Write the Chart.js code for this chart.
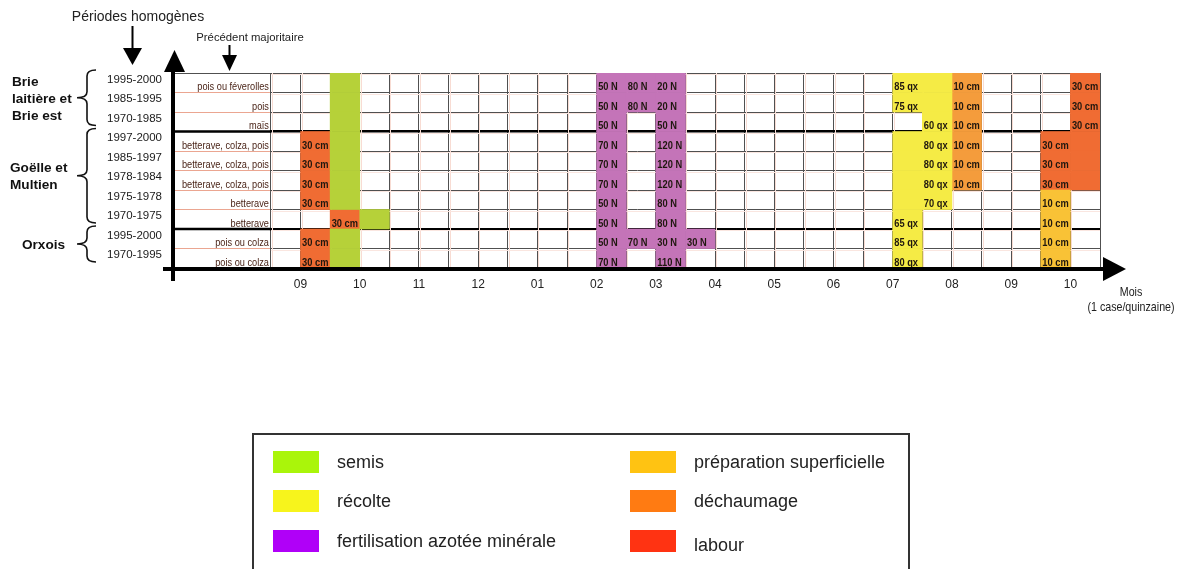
<!DOCTYPE html>
<html><head><meta charset="utf-8">
<script src="https://cdn.jsdelivr.net/npm/chart.js@4.4.0/dist/chart.umd.min.js"></script>
<style>
html,body{margin:0;padding:0;background:#fff;}
#wrap{position:relative;width:1184px;height:569px;overflow:hidden;background:#fff;}
#c{position:absolute;left:0;top:0;}
#legend{position:absolute;left:252px;top:433px;width:654px;height:160px;border:2px solid #333;font-family:'Liberation Sans',Arial,sans-serif;font-size:18px;color:#222;}
.sw{position:absolute;width:46px;height:22px;}
.lt{position:absolute;line-height:22px;white-space:nowrap;}
</style></head><body>
<div id="wrap"><canvas id="c" width="1184" height="569"></canvas><div id="legend"></div></div>
<script>
// ---------- DATA ----------
const periods = ['1995-2000','1985-1995','1970-1985','1997-2000','1985-1997','1978-1984','1975-1978','1970-1975','1995-2000','1970-1995'];
const precedents = ['pois ou féverolles','pois','maïs','betterave, colza, pois','betterave, colza, pois','betterave, colza, pois','betterave','betterave','pois ou colza','pois ou colza'];
const regionNames = [['Brie','laitière et','Brie est'],['Goëlle et','Multien'],['Orxois']];
const regionFirstRow = [0,3,8];
const regionLastRow = [2,7,9];
const monthLabels = ['09','10','11','12','01','02','03','04','05','06','07','08','09','10'];
const quinzaines = 28;
// [row, quinzaine index (0 = 1re quinzaine de septembre), value]
const semis = [[0,2],[1,2],[2,2],[3,2],[4,2],[5,2],[6,2],[7,3],[8,2],[9,2]];
const recolte = [[0,21,85],[0,22,null],[1,21,75],[1,22,null],[2,22,60],[3,21,null],[3,22,80],[4,21,null],[4,22,80],[5,21,null],[5,22,80],[6,21,null],[6,22,70],[7,21,65],[8,21,85],[9,21,80]];
const fertilisation = [[0,11,50],[0,12,80],[0,13,20],[1,11,50],[1,12,80],[1,13,20],[2,11,50],[2,13,50],[3,11,70],[3,13,120],[4,11,70],[4,13,120],[5,11,70],[5,13,120],[6,11,50],[6,13,80],[7,11,50],[7,13,80],[8,11,50],[8,12,70],[8,13,30],[8,14,30],[9,11,70],[9,13,110]];
const preparation = [[6,26,10],[7,26,10],[8,26,10],[9,26,10]];
const dechaumage = [[0,23,10],[1,23,10],[2,23,10],[3,23,10],[4,23,10],[5,23,10]];
const labour = [[0,27,30],[1,27,30],[2,27,30],[3,1,30],[3,26,30],[3,27,null],[4,1,30],[4,26,30],[4,27,null],[5,1,30],[5,26,30],[5,27,null],[6,1,30],[7,2,30],[8,1,30],[9,1,30]];

// ---------- BUILD ----------
const SANS = "'Liberation Sans',Arial,sans-serif";
const PREC_WIDTH = 3.24; // width of the "précédent" column, in quinzaines

function toBars(list, unit){
  return list.map(([row, q, v]) => ({x:[q, q+1], y: row + 0.5, txt: (v == null) ? '' : v + ' ' + unit}));
}
const datasets = [
  {label:'semis', data: toBars(semis,''), backgroundColor:'#b6d139', legendColor:'#aaf50a'},
  {label:'récolte', data: toBars(recolte,'qx'), backgroundColor:'#f5eb45', legendColor:'#f7f41c'},
  {label:'fertilisation azotée minérale', data: toBars(fertilisation,'N'), backgroundColor:'#c474b8', legendColor:'#b000f8'},
  {label:'préparation superficielle', data: toBars(preparation,'cm'), backgroundColor:'#f9c236', legendColor:'#ffc312'},
  {label:'déchaumage', data: toBars(dechaumage,'cm'), backgroundColor:'#f49c3c', legendColor:'#ff7b12'},
  {label:'labour', data: toBars(labour,'cm'), backgroundColor:'#f06c33', legendColor:'#ff3312'}
].map(d => Object.assign(d, {yAxisID:'y', xAxisID:'x'}));

function al(p){ return Math.round(p - 0.5) + 0.5; }
function tv(c){ return (c && c.tick) ? c.tick.value : -1; }
function narrowText(ctx, t, x, y, sx){
  ctx.save(); ctx.translate(x, y); ctx.scale(sx, 1); ctx.fillText(t, 0, 0); ctx.restore();
}

const decor = {
  id:'decor',
  beforeDatasetsDraw(chart){
    const {ctx, chartArea:a, scales:{x, y}} = chart;
    ctx.save();
    ctx.fillStyle = '#f8dcd3';
    for (let q = 0; q < quinzaines; q++){
      const px = Math.round(x.getPixelForValue(q)) + 1;
      ctx.fillRect(px, a.top, 1, a.bottom - a.top);
    }
    ctx.fillStyle = '#fae6e0';
    for (let r = 0; r < periods.length; r++){
      const py = Math.round(y.getPixelForValue(r)) + 1;
      ctx.fillRect(x.getPixelForValue(0), py, a.right - x.getPixelForValue(0), 1);
    }
    ctx.restore();
  },
  afterDraw(chart){
    const {ctx, chartArea:a, scales:{x, y}} = chart;
    const x0 = x.getPixelForValue(0);
    ctx.save();
    // précédent column
    ctx.fillStyle = '#fff';
    ctx.fillRect(a.left, a.top + 1, x0 - a.left - 1, a.bottom - a.top - 1);
    for (let r = 1; r < periods.length; r++){
      const py = y.getPixelForValue(r);
      if (regionFirstRow.includes(r)){
        ctx.fillStyle = '#000';
        ctx.fillRect(a.left, py - 1.25, x0 - a.left, 2.5);
      } else {
        ctx.fillStyle = '#eba691';
        ctx.fillRect(a.left, al(py) - 0.5, x0 - a.left - 1, 1);
      }
    }
    ctx.font = "11.5px " + SANS;
    ctx.fillStyle = '#4a2418';
    ctx.textAlign = 'right';
    ctx.textBaseline = 'alphabetic';
    precedents.forEach((t, r) => {
      narrowText(ctx, t, x0 - 2, y.getPixelForValue(r + 1) - 2.5, 0.8);
    });
    // cell texts
    ctx.font = "bold 10px " + SANS;
    ctx.fillStyle = '#1f170f';
    ctx.textAlign = 'left';
    chart.data.datasets.forEach(ds => {
      ds.data.forEach(d => {
        if (!d.txt) return;
        narrowText(ctx, d.txt, x.getPixelForValue(d.x[0]) + 1.5, y.getPixelForValue(d.y + 0.5) - 2.5, 0.93);
      });
    });
    // axes
    ctx.fillStyle = '#000';
    const yb = a.bottom + 1;
    const xr = x.getPixelForValue(quinzaines);
    ctx.fillRect(163, yb - 2, xr + 6 - 163, 4);
    ctx.beginPath();
    ctx.moveTo(xr + 3, yb - 12);
    ctx.lineTo(xr + 26, yb);
    ctx.lineTo(xr + 3, yb + 12);
    ctx.closePath(); ctx.fill();
    ctx.fillRect(a.left - 4, a.top - 4, 4, yb + 12 - (a.top - 4));
    ctx.beginPath();
    ctx.moveTo(a.left - 11, a.top - 1);
    ctx.lineTo(a.left - 0.5, a.top - 23);
    ctx.lineTo(a.left + 10, a.top - 1);
    ctx.closePath(); ctx.fill();
    // Mois
    ctx.fillStyle = '#222';
    ctx.textAlign = 'center';
    ctx.font = "13px " + SANS;
    narrowText(ctx, 'Mois', 1131, 296, 0.82);
    narrowText(ctx, '(1 case/quinzaine)', 1131, 311, 0.82);
    // titles
    ctx.font = "14px " + SANS;
    ctx.fillText('Périodes homogènes', 138, 21);
    ctx.font = "11.3px " + SANS;
    ctx.fillText('Précédent majoritaire', 250, 41);
    ctx.fillStyle = '#000';
    ctx.fillRect(131.5, 26, 2, 24);
    ctx.beginPath(); ctx.moveTo(123, 48); ctx.lineTo(142, 48); ctx.lineTo(132.5, 65); ctx.closePath(); ctx.fill();
    ctx.fillRect(228.5, 45, 2, 12);
    ctx.beginPath(); ctx.moveTo(222, 55); ctx.lineTo(237, 55); ctx.lineTo(229.5, 71); ctx.closePath(); ctx.fill();
    // braces and region labels
    const labelX = [12, 10, 22];
    ctx.strokeStyle = '#111';
    ctx.lineWidth = 1.6;
    ctx.font = "bold 13.6px " + SANS;
    ctx.textAlign = 'left';
    ctx.textBaseline = 'middle';
    regionNames.forEach((lines, g) => {
      const yTop = y.getPixelForValue(regionFirstRow[g]) - 3;
      const yBot = y.getPixelForValue(regionLastRow[g] + 1) - 6;
      const yMid = (yTop + yBot) / 2;
      const xe = 96, xm = 87, xt = 77, r = 6;
      ctx.beginPath();
      ctx.moveTo(xe, yTop);
      ctx.quadraticCurveTo(xm, yTop, xm, yTop + r);
      ctx.lineTo(xm, yMid - r);
      ctx.quadraticCurveTo(xm, yMid, xt, yMid);
      ctx.quadraticCurveTo(xm, yMid, xm, yMid + r);
      ctx.lineTo(xm, yBot - r);
      ctx.quadraticCurveTo(xm, yBot, xe, yBot);
      ctx.stroke();
      const lh = 17;
      lines.forEach((t, i) => {
        ctx.fillStyle = '#111';
        ctx.fillText(t, labelX[g], yMid + 1 + (i - (lines.length - 1) / 2) * lh);
      });
    });
    ctx.restore();
  }
};

const chart = new Chart(document.getElementById('c'), {
  type:'bar',
  data:{datasets},
  options:{
    responsive:false, animation:false, indexAxis:'y',
    layout:{padding:{top:73, right:84, bottom:271, left:0}},
    datasets:{bar:{grouped:false, barPercentage:1, categoryPercentage:1, borderWidth:0}},
    plugins:{legend:{display:false}, tooltip:{enabled:false}},
    scales:{
      x:{type:'linear', min:-PREC_WIDTH, max:quinzaines, position:'bottom', z:1, offset:false,
        afterBuildTicks(s){ const t=[-PREC_WIDTH]; for(let i=0;i<=quinzaines;i++) t.push(i); s.ticks = t.map(v=>({value:v})); },
        afterFit(s){ s.height = 30; },
        grid:{color:'#505050', lineWidth:1, drawTicks:false, offset:false},
        border:{display:false},
        ticks:{autoSkip:false, maxRotation:0, minRotation:0, padding:9, color:'#222', font:{family:SANS, size:12},
          callback(v){ return (Number.isInteger(v) && v % 2 === 1) ? monthLabels[(v - 1) / 2] : ''; }}
      },
      y:{type:'linear', min:0, max:periods.length, reverse:true, display:false, offset:false, grid:{offset:false}, ticks:{stepSize:1}},
      y2:{type:'linear', min:0, max:periods.length, reverse:true, position:'left', z:1, offset:false,
        afterBuildTicks(s){ const t=[]; for(let i=0;i<=periods.length*2;i++) t.push(i/2); s.ticks = t.map(v=>({value:v})); },
        afterFit(s){ s.width = 175; },
        grid:{drawTicks:false, offset:false,
          color(c){ const v=tv(c); if(!Number.isInteger(v)) return 'rgba(0,0,0,0)'; return (regionFirstRow.includes(v) && v>0) ? '#000' : '#505050'; },
          lineWidth(c){ const v=tv(c); return (Number.isInteger(v) && regionFirstRow.includes(v) && v>0) ? 2.5 : 1; }},
        border:{display:false},
        ticks:{autoSkip:false, padding:13, labelOffset:-3, color:'#1a1a1a', font:{family:SANS, size:11.5},
          callback(v){ return Number.isInteger(v) ? '' : periods[v - 0.5]; }}
      }
    }
  },
  plugins:[decor]
});

// ---------- LEGEND (HTML) ----------
const leg = document.getElementById('legend');
datasets.forEach((d, i) => {
  const col = Math.floor(i / 3), row = i % 3;
  const sx = [19, 376][col], sy = [16, 55, 95][row];
  const sw = document.createElement('div');
  sw.className = 'sw'; sw.style.left = sx + 'px'; sw.style.top = sy + 'px'; sw.style.background = d.legendColor;
  leg.appendChild(sw);
  const t = document.createElement('div');
  t.className = 'lt'; t.textContent = d.label;
  t.style.left = (sx + 64) + 'px'; t.style.top = (sy + (i === 5 ? 4 : 0)) + 'px';
  leg.appendChild(t);
});
</script>
</body></html>
